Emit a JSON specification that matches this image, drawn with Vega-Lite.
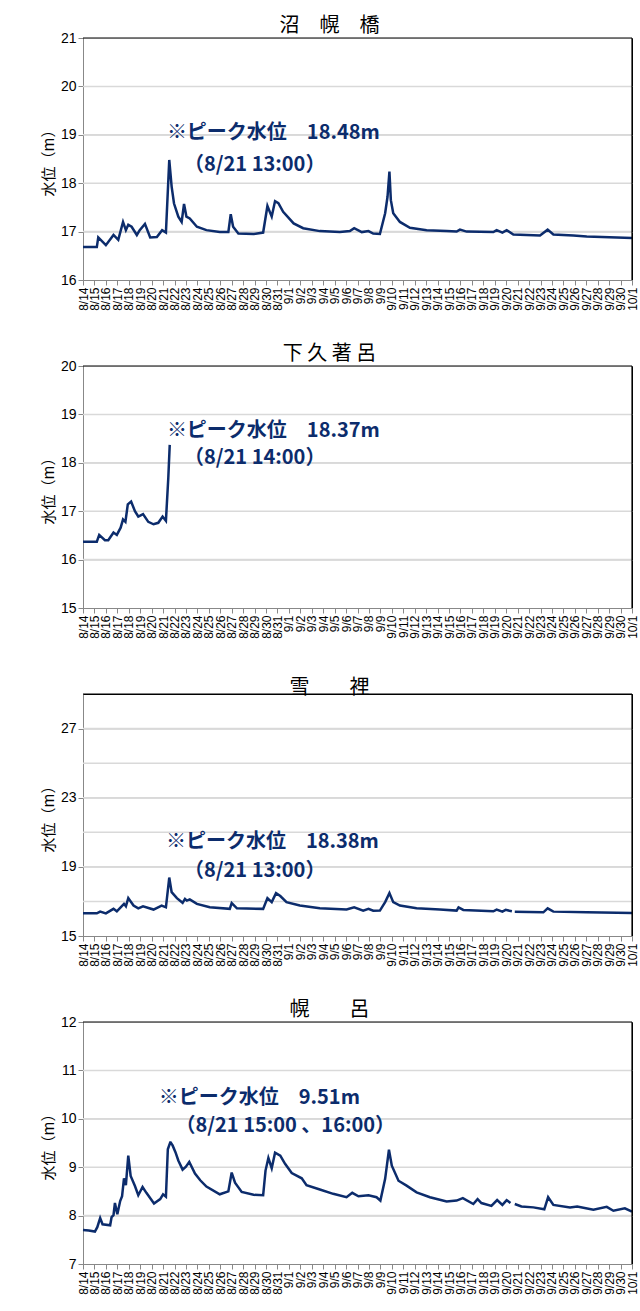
{
  "$schema": "https://vega.github.io/schema/vega-lite/v6.json",
  "padding": {"left": 40, "top": 15, "right": 8, "bottom": 4},
  "background": "white",
  "spacing": 86,
  "bounds": "flush",
  "config": {
    "view": {"stroke": "black", "strokeWidth": 1},
    "title": {"font": "Noto Sans CJK JP", "fontSize": 20, "fontWeight": "normal", "color": "black", "offset": 3}
  },
  "datasets": {
    "p1": [
      {"t": "2016-08-14T00:00", "v": 16.68}, {"t": "2016-08-15T05:00", "v": 16.68}, {"t": "2016-08-15T08:00", "v": 16.88}, {"t": "2016-08-16T00:00", "v": 16.72},
      {"t": "2016-08-16T16:00", "v": 16.93}, {"t": "2016-08-17T02:00", "v": 16.83}, {"t": "2016-08-17T12:00", "v": 17.2}, {"t": "2016-08-17T18:00", "v": 17.03},
      {"t": "2016-08-17T23:00", "v": 17.14}, {"t": "2016-08-18T06:00", "v": 17.1}, {"t": "2016-08-18T17:00", "v": 16.93}, {"t": "2016-08-18T23:00", "v": 17.03},
      {"t": "2016-08-19T10:00", "v": 17.16}, {"t": "2016-08-19T21:00", "v": 16.88}, {"t": "2016-08-20T11:00", "v": 16.89}, {"t": "2016-08-20T22:00", "v": 17.03},
      {"t": "2016-08-21T06:00", "v": 16.98}, {"t": "2016-08-21T13:00", "v": 18.48}, {"t": "2016-08-21T18:00", "v": 17.93}, {"t": "2016-08-21T23:00", "v": 17.58},
      {"t": "2016-08-22T08:00", "v": 17.31}, {"t": "2016-08-22T15:00", "v": 17.2}, {"t": "2016-08-22T20:00", "v": 17.57}, {"t": "2016-08-23T01:00", "v": 17.31},
      {"t": "2016-08-23T08:00", "v": 17.27}, {"t": "2016-08-23T23:00", "v": 17.1}, {"t": "2016-08-24T19:00", "v": 17.03}, {"t": "2016-08-25T23:00", "v": 16.99},
      {"t": "2016-08-26T17:00", "v": 16.99}, {"t": "2016-08-26T22:00", "v": 17.36}, {"t": "2016-08-27T03:00", "v": 17.1}, {"t": "2016-08-27T14:00", "v": 16.96},
      {"t": "2016-08-28T22:00", "v": 16.95}, {"t": "2016-08-29T18:00", "v": 16.98}, {"t": "2016-08-30T03:00", "v": 17.53}, {"t": "2016-08-30T12:00", "v": 17.31},
      {"t": "2016-08-30T19:00", "v": 17.63}, {"t": "2016-08-31T02:00", "v": 17.59}, {"t": "2016-08-31T12:00", "v": 17.41}, {"t": "2016-09-01T10:00", "v": 17.17},
      {"t": "2016-09-02T06:00", "v": 17.07}, {"t": "2016-09-03T17:00", "v": 17.01}, {"t": "2016-09-05T11:00", "v": 16.99}, {"t": "2016-09-06T08:00", "v": 17.01},
      {"t": "2016-09-06T17:00", "v": 17.07}, {"t": "2016-09-07T09:00", "v": 16.99}, {"t": "2016-09-07T23:00", "v": 17.01}, {"t": "2016-09-08T09:00", "v": 16.96},
      {"t": "2016-09-08T23:00", "v": 16.95}, {"t": "2016-09-09T10:00", "v": 17.38}, {"t": "2016-09-09T15:00", "v": 17.72}, {"t": "2016-09-09T19:00", "v": 18.24},
      {"t": "2016-09-09T22:00", "v": 17.65}, {"t": "2016-09-10T03:00", "v": 17.38}, {"t": "2016-09-10T17:00", "v": 17.2}, {"t": "2016-09-11T14:00", "v": 17.08},
      {"t": "2016-09-13T01:00", "v": 17.03}, {"t": "2016-09-14T19:00", "v": 17.01}, {"t": "2016-09-15T16:00", "v": 17.0}, {"t": "2016-09-15T23:00", "v": 17.04},
      {"t": "2016-09-16T13:00", "v": 17.0}, {"t": "2016-09-18T21:00", "v": 16.99}, {"t": "2016-09-19T04:00", "v": 17.03}, {"t": "2016-09-19T16:00", "v": 16.98},
      {"t": "2016-09-20T01:00", "v": 17.03}, {"t": "2016-09-20T15:00", "v": 16.94}, {"t": "2016-09-22T23:00", "v": 16.92}, {"t": "2016-09-23T15:00", "v": 17.04},
      {"t": "2016-09-24T03:00", "v": 16.94}, {"t": "2016-09-25T21:00", "v": 16.92}, {"t": "2016-09-27T01:00", "v": 16.9}, {"t": "2016-10-01T00:00", "v": 16.87}
    ],
    "p2": [
      {"t": "2016-08-14T00:00", "v": 16.37}, {"t": "2016-08-15T05:00", "v": 16.37}, {"t": "2016-08-15T10:00", "v": 16.51}, {"t": "2016-08-15T22:00", "v": 16.4},
      {"t": "2016-08-16T05:00", "v": 16.4}, {"t": "2016-08-16T16:00", "v": 16.56}, {"t": "2016-08-16T23:00", "v": 16.51}, {"t": "2016-08-17T07:00", "v": 16.66},
      {"t": "2016-08-17T12:00", "v": 16.83}, {"t": "2016-08-17T17:00", "v": 16.78}, {"t": "2016-08-17T22:00", "v": 17.14}, {"t": "2016-08-18T05:00", "v": 17.2},
      {"t": "2016-08-18T13:00", "v": 17.0}, {"t": "2016-08-18T20:00", "v": 16.89}, {"t": "2016-08-19T06:00", "v": 16.94}, {"t": "2016-08-19T17:00", "v": 16.78},
      {"t": "2016-08-20T04:00", "v": 16.73}, {"t": "2016-08-20T14:00", "v": 16.76}, {"t": "2016-08-20T23:00", "v": 16.89}, {"t": "2016-08-21T06:00", "v": 16.8},
      {"t": "2016-08-21T11:00", "v": 17.69}, {"t": "2016-08-21T14:00", "v": 18.37}
    ],
    "p3": [
      {"t": "2016-08-14T00:00", "v": 16.31, "g": 1}, {"t": "2016-08-15T05:00", "v": 16.31, "g": 1}, {"t": "2016-08-15T12:00", "v": 16.41, "g": 1}, {"t": "2016-08-16T00:00", "v": 16.31, "g": 1},
      {"t": "2016-08-16T16:00", "v": 16.57, "g": 1}, {"t": "2016-08-16T23:00", "v": 16.43, "g": 1}, {"t": "2016-08-17T14:00", "v": 16.86, "g": 1}, {"t": "2016-08-17T18:00", "v": 16.72, "g": 1},
      {"t": "2016-08-17T23:00", "v": 17.19, "g": 1}, {"t": "2016-08-18T10:00", "v": 16.76, "g": 1}, {"t": "2016-08-18T20:00", "v": 16.6, "g": 1}, {"t": "2016-08-19T06:00", "v": 16.72, "g": 1},
      {"t": "2016-08-20T04:00", "v": 16.53, "g": 1}, {"t": "2016-08-20T21:00", "v": 16.76, "g": 1}, {"t": "2016-08-21T06:00", "v": 16.66, "g": 1}, {"t": "2016-08-21T13:00", "v": 18.38, "g": 1},
      {"t": "2016-08-21T18:00", "v": 17.54, "g": 1}, {"t": "2016-08-22T05:00", "v": 17.19, "g": 1}, {"t": "2016-08-22T17:00", "v": 16.92, "g": 1}, {"t": "2016-08-22T22:00", "v": 17.15, "g": 1},
      {"t": "2016-08-23T02:00", "v": 17.05, "g": 1}, {"t": "2016-08-23T08:00", "v": 17.12, "g": 1}, {"t": "2016-08-23T23:00", "v": 16.86, "g": 1}, {"t": "2016-08-25T02:00", "v": 16.66, "g": 1},
      {"t": "2016-08-26T20:00", "v": 16.57, "g": 1}, {"t": "2016-08-27T00:00", "v": 16.9, "g": 1}, {"t": "2016-08-27T11:00", "v": 16.6, "g": 1}, {"t": "2016-08-29T18:00", "v": 16.57, "g": 1},
      {"t": "2016-08-30T03:00", "v": 17.19, "g": 1}, {"t": "2016-08-30T12:00", "v": 16.96, "g": 1}, {"t": "2016-08-30T21:00", "v": 17.48, "g": 1}, {"t": "2016-08-31T06:00", "v": 17.31, "g": 1},
      {"t": "2016-08-31T19:00", "v": 16.96, "g": 1}, {"t": "2016-09-01T23:00", "v": 16.76, "g": 1}, {"t": "2016-09-03T17:00", "v": 16.6, "g": 1}, {"t": "2016-09-06T01:00", "v": 16.53, "g": 1},
      {"t": "2016-09-06T17:00", "v": 16.66, "g": 1}, {"t": "2016-09-07T12:00", "v": 16.47, "g": 1}, {"t": "2016-09-07T23:00", "v": 16.57, "g": 1}, {"t": "2016-09-08T09:00", "v": 16.46, "g": 1},
      {"t": "2016-09-08T23:00", "v": 16.47, "g": 1}, {"t": "2016-09-09T10:00", "v": 16.96, "g": 1}, {"t": "2016-09-09T19:00", "v": 17.48, "g": 1}, {"t": "2016-09-10T03:00", "v": 16.96, "g": 1},
      {"t": "2016-09-10T17:00", "v": 16.76, "g": 1}, {"t": "2016-09-12T04:00", "v": 16.6, "g": 1}, {"t": "2016-09-14T05:00", "v": 16.53, "g": 1}, {"t": "2016-09-15T16:00", "v": 16.47, "g": 1},
      {"t": "2016-09-15T20:00", "v": 16.66, "g": 1}, {"t": "2016-09-16T06:00", "v": 16.51, "g": 1}, {"t": "2016-09-18T21:00", "v": 16.43, "g": 1}, {"t": "2016-09-19T04:00", "v": 16.53, "g": 1},
      {"t": "2016-09-19T16:00", "v": 16.41, "g": 1}, {"t": "2016-09-19T23:00", "v": 16.51, "g": 1}, {"t": "2016-09-20T12:00", "v": 16.43, "g": 1},
      {"t": "2016-09-20T18:00", "v": 16.41, "g": 2}, {"t": "2016-09-23T06:00", "v": 16.37, "g": 2}, {"t": "2016-09-23T15:00", "v": 16.6, "g": 2}, {"t": "2016-09-24T03:00", "v": 16.41, "g": 2},
      {"t": "2016-09-27T01:00", "v": 16.37, "g": 2}, {"t": "2016-10-01T00:00", "v": 16.33, "g": 2}
    ],
    "p4": [
      {"t": "2016-08-14T00:00", "v": 7.7, "g": 1}, {"t": "2016-08-14T12:00", "v": 7.69, "g": 1}, {"t": "2016-08-15T01:00", "v": 7.67, "g": 1}, {"t": "2016-08-15T06:00", "v": 7.76, "g": 1},
      {"t": "2016-08-15T12:00", "v": 7.95, "g": 1}, {"t": "2016-08-15T17:00", "v": 7.82, "g": 1}, {"t": "2016-08-16T09:00", "v": 7.8, "g": 1}, {"t": "2016-08-16T12:00", "v": 7.97, "g": 1},
      {"t": "2016-08-16T16:00", "v": 8.01, "g": 1}, {"t": "2016-08-16T19:00", "v": 8.26, "g": 1}, {"t": "2016-08-17T00:00", "v": 8.03, "g": 1}, {"t": "2016-08-17T06:00", "v": 8.3, "g": 1},
      {"t": "2016-08-17T10:00", "v": 8.4, "g": 1}, {"t": "2016-08-17T14:00", "v": 8.77, "g": 1}, {"t": "2016-08-17T18:00", "v": 8.63, "g": 1}, {"t": "2016-08-17T23:00", "v": 9.24, "g": 1},
      {"t": "2016-08-18T04:00", "v": 8.82, "g": 1}, {"t": "2016-08-18T13:00", "v": 8.61, "g": 1}, {"t": "2016-08-18T20:00", "v": 8.42, "g": 1}, {"t": "2016-08-19T05:00", "v": 8.59, "g": 1},
      {"t": "2016-08-19T13:00", "v": 8.47, "g": 1}, {"t": "2016-08-20T05:00", "v": 8.25, "g": 1}, {"t": "2016-08-20T18:00", "v": 8.34, "g": 1}, {"t": "2016-08-21T00:00", "v": 8.44, "g": 1},
      {"t": "2016-08-21T06:00", "v": 8.39, "g": 1}, {"t": "2016-08-21T10:00", "v": 9.37, "g": 1}, {"t": "2016-08-21T15:00", "v": 9.51, "g": 1}, {"t": "2016-08-21T16:00", "v": 9.51, "g": 1},
      {"t": "2016-08-21T20:00", "v": 9.45, "g": 1}, {"t": "2016-08-22T02:00", "v": 9.31, "g": 1}, {"t": "2016-08-22T08:00", "v": 9.14, "g": 1}, {"t": "2016-08-22T17:00", "v": 8.95, "g": 1},
      {"t": "2016-08-23T00:00", "v": 9.01, "g": 1}, {"t": "2016-08-23T07:00", "v": 9.11, "g": 1}, {"t": "2016-08-23T19:00", "v": 8.87, "g": 1}, {"t": "2016-08-24T06:00", "v": 8.73, "g": 1},
      {"t": "2016-08-24T19:00", "v": 8.6, "g": 1}, {"t": "2016-08-25T23:00", "v": 8.44, "g": 1}, {"t": "2016-08-26T17:00", "v": 8.5, "g": 1}, {"t": "2016-08-27T00:00", "v": 8.89, "g": 1},
      {"t": "2016-08-27T07:00", "v": 8.68, "g": 1}, {"t": "2016-08-27T21:00", "v": 8.49, "g": 1}, {"t": "2016-08-28T22:00", "v": 8.43, "g": 1}, {"t": "2016-08-29T18:00", "v": 8.42, "g": 1},
      {"t": "2016-08-29T23:00", "v": 8.93, "g": 1}, {"t": "2016-08-30T05:00", "v": 9.19, "g": 1}, {"t": "2016-08-30T12:00", "v": 8.98, "g": 1}, {"t": "2016-08-30T19:00", "v": 9.3, "g": 1},
      {"t": "2016-08-31T06:00", "v": 9.24, "g": 1}, {"t": "2016-08-31T16:00", "v": 9.07, "g": 1}, {"t": "2016-09-01T06:00", "v": 8.88, "g": 1}, {"t": "2016-09-02T03:00", "v": 8.77, "g": 1},
      {"t": "2016-09-02T13:00", "v": 8.63, "g": 1}, {"t": "2016-09-03T17:00", "v": 8.54, "g": 1}, {"t": "2016-09-04T21:00", "v": 8.45, "g": 1}, {"t": "2016-09-06T01:00", "v": 8.38, "g": 1},
      {"t": "2016-09-06T13:00", "v": 8.47, "g": 1}, {"t": "2016-09-07T02:00", "v": 8.4, "g": 1}, {"t": "2016-09-07T23:00", "v": 8.42, "g": 1}, {"t": "2016-09-08T16:00", "v": 8.38, "g": 1},
      {"t": "2016-09-09T00:00", "v": 8.31, "g": 1}, {"t": "2016-09-09T10:00", "v": 8.76, "g": 1}, {"t": "2016-09-09T18:00", "v": 9.36, "g": 1}, {"t": "2016-09-10T00:00", "v": 9.03, "g": 1},
      {"t": "2016-09-10T14:00", "v": 8.72, "g": 1}, {"t": "2016-09-11T07:00", "v": 8.62, "g": 1}, {"t": "2016-09-12T04:00", "v": 8.48, "g": 1}, {"t": "2016-09-13T08:00", "v": 8.38, "g": 1},
      {"t": "2016-09-14T19:00", "v": 8.29, "g": 1}, {"t": "2016-09-15T16:00", "v": 8.31, "g": 1}, {"t": "2016-09-16T05:00", "v": 8.36, "g": 1}, {"t": "2016-09-17T03:00", "v": 8.24, "g": 1},
      {"t": "2016-09-17T12:00", "v": 8.34, "g": 1}, {"t": "2016-09-17T20:00", "v": 8.26, "g": 1}, {"t": "2016-09-18T17:00", "v": 8.2, "g": 1}, {"t": "2016-09-19T05:00", "v": 8.32, "g": 1},
      {"t": "2016-09-19T16:00", "v": 8.22, "g": 1}, {"t": "2016-09-20T01:00", "v": 8.32, "g": 1}, {"t": "2016-09-20T09:00", "v": 8.26, "g": 1},
      {"t": "2016-09-20T18:00", "v": 8.24, "g": 2}, {"t": "2016-09-21T08:00", "v": 8.19, "g": 2}, {"t": "2016-09-22T09:00", "v": 8.17, "g": 2}, {"t": "2016-09-23T08:00", "v": 8.13, "g": 2},
      {"t": "2016-09-23T16:00", "v": 8.38, "g": 2}, {"t": "2016-09-24T03:00", "v": 8.22, "g": 2}, {"t": "2016-09-25T14:00", "v": 8.17, "g": 2}, {"t": "2016-09-26T05:00", "v": 8.19, "g": 2},
      {"t": "2016-09-27T15:00", "v": 8.12, "g": 2}, {"t": "2016-09-28T19:00", "v": 8.18, "g": 2}, {"t": "2016-09-29T09:00", "v": 8.1, "g": 2}, {"t": "2016-09-30T09:00", "v": 8.15, "g": 2},
      {"t": "2016-10-01T00:00", "v": 8.08, "g": 2}
    ],
    "a1": [
      {"t": "2016-08-21T08:00", "v": 19.04, "label": "※ピーク水位　18.48m"},
      {"t": "2016-08-22T20:00", "v": 18.38, "label": "（8/21 13:00）"}
    ],
    "a2": [
      {"t": "2016-08-21T08:00", "v": 18.66, "label": "※ピーク水位　18.37m"},
      {"t": "2016-08-22T20:00", "v": 18.1, "label": "（8/21 14:00）"}
    ],
    "a3": [
      {"t": "2016-08-21T06:00", "v": 20.46, "label": "※ピーク水位　18.38m"},
      {"t": "2016-08-22T20:00", "v": 18.77, "label": "（8/21 13:00）"}
    ],
    "a4": [
      {"t": "2016-08-20T15:00", "v": 10.42, "label": "※ピーク水位　9.51m"},
      {"t": "2016-08-22T02:00", "v": 9.86, "label": "（8/21 15:00 、16:00）"}
    ],
    "g1": [{"v": 17}, {"v": 18}, {"v": 19}, {"v": 20}],
    "g2": [{"v": 16}, {"v": 17}, {"v": 18}, {"v": 19}],
    "g3": [{"v": 17}, {"v": 19}, {"v": 21}, {"v": 23}, {"v": 25}, {"v": 27}],
    "g4": [{"v": 8}, {"v": 9}, {"v": 10}, {"v": 11}],
    "top1": [{"v": 21}], "top2": [{"v": 20}], "top3": [{"v": 29}], "top4": [{"v": 12}],
    "end": [{"t": "2016-10-01T00:00"}]
  },
  "vconcat": [
    {
      "title": {"text": "沼　幌　橋", "dx": -28, "dy": 8},
      "width": 549, "height": 242,
      "layer": [
        {"data": {"name": "g1"}, "mark": {"type": "rule", "color": "#d9d9d9", "strokeWidth": 1.5}, "encoding": {"y": {"field": "v", "type": "quantitative", "scale": {"domain": [16, 21], "nice": false, "zero": false}}}},
        {"data": {"name": "p1"}, "mark": {"type": "line", "color": "#0c2c6c", "strokeWidth": 2.5},
         "encoding": {
          "x": {"field": "t", "type": "temporal", "scale": {"domain": [{"year": 2016, "month": 8, "date": 14}, {"year": 2016, "month": 10, "date": 1}], "nice": false}, "axis": {"title": null, "format": "%-m/%-d", "tickCount": {"interval": "day", "step": 1}, "labelAngle": -90, "labelOverlap": false, "labelFont": "Liberation Sans", "labelFontSize": 12, "gridOpacity": 0}},
          "y": {"field": "v", "type": "quantitative", "scale": {"domain": [16, 21], "nice": false, "zero": false}, "axis": {"title": "水位（m）", "values": [16, 17, 18, 19, 20, 21], "labelOverlap": false, "labelFont": "Liberation Sans", "labelFontSize": 14, "titleFont": "Noto Sans CJK JP", "titleFontSize": 15, "titleFontWeight": "normal"}}}},
        {"data": {"name": "a1"}, "mark": {"type": "text", "font": "Noto Sans CJK JP", "fontSize": 20, "fontWeight": "bold", "color": "#0c2c6c", "align": "left", "baseline": "middle"},
         "encoding": {"x": {"field": "t", "type": "temporal"}, "y": {"field": "v", "type": "quantitative"}, "text": {"field": "label"}}},
        {"data": {"name": "top1"}, "mark": {"type": "rule", "color": "black", "strokeWidth": 1.2}, "encoding": {"y": {"field": "v", "type": "quantitative"}}},
        {"data": {"name": "end"}, "mark": {"type": "rule", "color": "black", "strokeWidth": 1.2}, "encoding": {"x": {"field": "t", "type": "temporal"}}}
      ]
    },
    {
      "title": {"text": "下 久 著 呂", "dx": -28, "dy": 8},
      "width": 549, "height": 242,
      "layer": [
        {"data": {"name": "g2"}, "mark": {"type": "rule", "color": "#d9d9d9", "strokeWidth": 1.5}, "encoding": {"y": {"field": "v", "type": "quantitative", "scale": {"domain": [15, 20], "nice": false, "zero": false}}}},
        {"data": {"name": "p2"}, "mark": {"type": "line", "color": "#0c2c6c", "strokeWidth": 2.5},
         "encoding": {
          "x": {"field": "t", "type": "temporal", "scale": {"domain": [{"year": 2016, "month": 8, "date": 14}, {"year": 2016, "month": 10, "date": 1}], "nice": false}, "axis": {"title": null, "format": "%-m/%-d", "tickCount": {"interval": "day", "step": 1}, "labelAngle": -90, "labelOverlap": false, "labelFont": "Liberation Sans", "labelFontSize": 12, "gridOpacity": 0}},
          "y": {"field": "v", "type": "quantitative", "scale": {"domain": [15, 20], "nice": false, "zero": false}, "axis": {"title": "水位（m）", "values": [15, 16, 17, 18, 19, 20], "labelOverlap": false, "labelFont": "Liberation Sans", "labelFontSize": 14, "titleFont": "Noto Sans CJK JP", "titleFontSize": 15, "titleFontWeight": "normal"}}}},
        {"data": {"name": "a2"}, "mark": {"type": "text", "font": "Noto Sans CJK JP", "fontSize": 20, "fontWeight": "bold", "color": "#0c2c6c", "align": "left", "baseline": "middle"},
         "encoding": {"x": {"field": "t", "type": "temporal"}, "y": {"field": "v", "type": "quantitative"}, "text": {"field": "label"}}},
        {"data": {"name": "top2"}, "mark": {"type": "rule", "color": "black", "strokeWidth": 1.2}, "encoding": {"y": {"field": "v", "type": "quantitative"}}},
        {"data": {"name": "end"}, "mark": {"type": "rule", "color": "black", "strokeWidth": 1.2}, "encoding": {"x": {"field": "t", "type": "temporal"}}}
      ]
    },
    {
      "title": {"text": "雪　　裡", "dx": -28, "dy": 8},
      "width": 549, "height": 242,
      "layer": [
        {"data": {"name": "g3"}, "mark": {"type": "rule", "color": "#d9d9d9", "strokeWidth": 1.5}, "encoding": {"y": {"field": "v", "type": "quantitative", "scale": {"domain": [15, 29], "nice": false, "zero": false}}}},
        {"data": {"name": "p3"}, "mark": {"type": "line", "color": "#0c2c6c", "strokeWidth": 2.5},
         "encoding": {
          "x": {"field": "t", "type": "temporal", "scale": {"domain": [{"year": 2016, "month": 8, "date": 14}, {"year": 2016, "month": 10, "date": 1}], "nice": false}, "axis": {"title": null, "format": "%-m/%-d", "tickCount": {"interval": "day", "step": 1}, "labelAngle": -90, "labelOverlap": false, "labelFont": "Liberation Sans", "labelFontSize": 12, "gridOpacity": 0}},
          "y": {"field": "v", "type": "quantitative", "scale": {"domain": [15, 29], "nice": false, "zero": false}, "axis": {"title": "水位（m）", "values": [15, 17, 19, 21, 23, 25, 27, 29], "labelOverlap": false, "labelFont": "Liberation Sans", "labelFontSize": 14, "titleFont": "Noto Sans CJK JP", "titleFontSize": 15, "titleFontWeight": "normal"}},
          "detail": {"field": "g", "type": "nominal"}}},
        {"data": {"name": "a3"}, "mark": {"type": "text", "font": "Noto Sans CJK JP", "fontSize": 20, "fontWeight": "bold", "color": "#0c2c6c", "align": "left", "baseline": "middle"},
         "encoding": {"x": {"field": "t", "type": "temporal"}, "y": {"field": "v", "type": "quantitative"}, "text": {"field": "label"}}},
        {"data": {"name": "top3"}, "mark": {"type": "rule", "color": "black", "strokeWidth": 1.2}, "encoding": {"y": {"field": "v", "type": "quantitative"}}},
        {"data": {"name": "end"}, "mark": {"type": "rule", "color": "black", "strokeWidth": 1.2}, "encoding": {"x": {"field": "t", "type": "temporal"}}}
      ]
    },
    {
      "title": {"text": "幌　　呂", "dx": -28, "dy": 8},
      "width": 549, "height": 242,
      "layer": [
        {"data": {"name": "g4"}, "mark": {"type": "rule", "color": "#d9d9d9", "strokeWidth": 1.5}, "encoding": {"y": {"field": "v", "type": "quantitative", "scale": {"domain": [7, 12], "nice": false, "zero": false}}}},
        {"data": {"name": "p4"}, "mark": {"type": "line", "color": "#0c2c6c", "strokeWidth": 2.5},
         "encoding": {
          "x": {"field": "t", "type": "temporal", "scale": {"domain": [{"year": 2016, "month": 8, "date": 14}, {"year": 2016, "month": 10, "date": 1}], "nice": false}, "axis": {"title": null, "format": "%-m/%-d", "tickCount": {"interval": "day", "step": 1}, "labelAngle": -90, "labelOverlap": false, "labelFont": "Liberation Sans", "labelFontSize": 12, "gridOpacity": 0}},
          "y": {"field": "v", "type": "quantitative", "scale": {"domain": [7, 12], "nice": false, "zero": false}, "axis": {"title": "水位（m）", "values": [7, 8, 9, 10, 11, 12], "labelOverlap": false, "labelFont": "Liberation Sans", "labelFontSize": 14, "titleFont": "Noto Sans CJK JP", "titleFontSize": 15, "titleFontWeight": "normal"}},
          "detail": {"field": "g", "type": "nominal"}}},
        {"data": {"name": "a4"}, "mark": {"type": "text", "font": "Noto Sans CJK JP", "fontSize": 20, "fontWeight": "bold", "color": "#0c2c6c", "align": "left", "baseline": "middle"},
         "encoding": {"x": {"field": "t", "type": "temporal"}, "y": {"field": "v", "type": "quantitative"}, "text": {"field": "label"}}},
        {"data": {"name": "top4"}, "mark": {"type": "rule", "color": "black", "strokeWidth": 1.2}, "encoding": {"y": {"field": "v", "type": "quantitative"}}},
        {"data": {"name": "end"}, "mark": {"type": "rule", "color": "black", "strokeWidth": 1.2}, "encoding": {"x": {"field": "t", "type": "temporal"}}}
      ]
    }
  ]
}
